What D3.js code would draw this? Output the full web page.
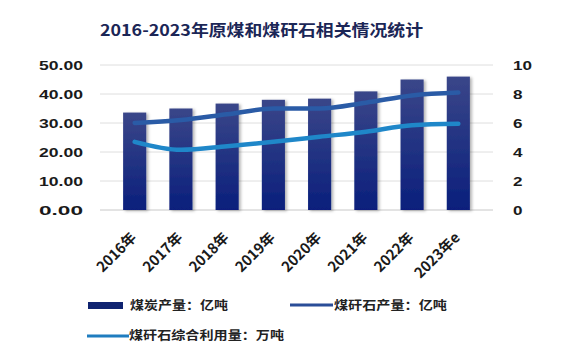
<!DOCTYPE html>
<html><head><meta charset="utf-8">
<script src="https://cdn.jsdelivr.net/npm/d3@7"></script>
<style>body{margin:0;background:#fff;}svg{display:block;font-family:"Noto Sans CJK SC","Noto Sans",sans-serif;}</style>
</head><body><svg id="c" width="570" height="359"></svg>
<script>
const categories = ["2016年","2017年","2018年","2019年","2020年","2021年","2022年","2023年e"];
const coalOutput = [33.6, 35.0, 36.7, 38.0, 38.4, 40.9, 45.0, 46.0];
const gangueOutput = [6.0, 6.2, 6.6, 7.0, 7.0, 7.4, 7.9, 8.1];
const gangueUse = [4.7, 4.15, 4.4, 4.7, 5.05, 5.4, 5.85, 5.95];
const leftTicks = [0,10,20,30,40,50];
const rightTicks = [0,2,4,6,8,10];

const svg = d3.select("#c");
const defs = svg.append("defs");
const g = defs.append("linearGradient").attr("id","bg").attr("x1",0).attr("y1",0).attr("x2",0).attr("y2",1);
g.append("stop").attr("offset","0%").attr("stop-color","#3a4689");
g.append("stop").attr("offset","100%").attr("stop-color","#0a1f7c");
const f = defs.append("filter").attr("id","sh").attr("x","-20%").attr("y","-10%").attr("width","150%").attr("height","130%");
f.append("feDropShadow").attr("dx",2).attr("dy",1).attr("stdDeviation",1.5).attr("flood-color","#000").attr("flood-opacity",0.3);

const L = 100, R = 493, T = 65, B = 210;
const x = d3.scaleBand().domain(categories).range([L,R]).padding(0.5);
const yL = d3.scaleLinear().domain([0,50]).range([B,T]);
const yR = d3.scaleLinear().domain([0,10]).range([B,T]);

svg.append("text").attr("x",100).attr("y",36)
  .attr("font-size",16).attr("font-weight","bold").attr("fill","#1b2656")
  .attr("textLength",323).attr("lengthAdjust","spacingAndGlyphs")
  .text("2016-2023年原煤和煤矸石相关情况统计");

// grid
svg.append("g").selectAll("line").data(leftTicks).join("line")
  .attr("x1",L).attr("x2",R).attr("y1",d=>yL(d)).attr("y2",d=>yL(d))
  .attr("stroke",d=>d===0?"#c8c8c8":"#dedede").attr("stroke-width",1);

// left axis
const la = svg.append("g").attr("transform",`translate(${L-17},0)`)
  .call(d3.axisLeft(yL).tickValues(leftTicks).tickFormat(d3.format(".2f")).tickSize(0));
la.select(".domain").remove();
la.selectAll("text").attr("x",0).attr("font-size",13).attr("font-weight","bold").attr("fill","#1a1a1a").attr("dy","0.35em")
  .attr("textLength",44).attr("lengthAdjust","spacingAndGlyphs");

// right axis
const ra = svg.append("g").attr("transform",`translate(${R+20},0)`)
  .call(d3.axisRight(yR).tickValues(rightTicks).tickFormat(d3.format("d")).tickSize(0));
ra.select(".domain").remove();
ra.selectAll("text").attr("x",0).attr("font-size",13.5).attr("font-weight","bold").attr("fill","#1a1a1a").attr("dy","0.35em")
  .attr("textLength",d=>d>=10?19:9.5).attr("lengthAdjust","spacingAndGlyphs");

// bars
svg.append("g").selectAll("rect").data(coalOutput).join("rect")
  .attr("x",(d,i)=>x(categories[i])).attr("width",x.bandwidth())
  .attr("y",d=>yL(d)).attr("height",d=>B-yL(d))
  .attr("fill","url(#bg)").attr("filter","url(#sh)");

// x labels
svg.append("g").selectAll("text").data(categories).join("text")
  .attr("transform",d=>`translate(${x(d)+x.bandwidth()/2-1},${B+25}) rotate(-45)`)
  .attr("text-anchor","end").attr("dy","0.35em")
  .attr("font-size",14.5).attr("font-weight","bold").attr("fill","#1a1a1a")
  .text(d=>d);

const line = d3.line().x((d,i)=>x(categories[i])+x.bandwidth()/2).y(d=>yR(d)).curve(d3.curveMonotoneX);
svg.append("path").attr("d",line(gangueUse)).attr("fill","none").attr("stroke","#1f87c9").attr("stroke-width",4.5).attr("stroke-linecap","round");
svg.append("path").attr("d",line(gangueOutput)).attr("fill","none").attr("stroke","#2a5ba6").attr("stroke-width",4.5).attr("stroke-linecap","round");

// legend
const lg = svg.append("g").attr("font-size",12).attr("font-weight","bold").attr("fill","#222");
lg.append("rect").attr("x",88).attr("y",302).attr("width",35).attr("height",7).attr("fill","#0f2370");
lg.append("text").attr("x",130).attr("y",306).attr("dy","0.35em").attr("textLength",98).attr("lengthAdjust","spacingAndGlyphs").text("煤炭产量：亿吨");
lg.append("line").attr("x1",290).attr("x2",333).attr("y1",305).attr("y2",305).attr("stroke","#2a4d98").attr("stroke-width",3);
lg.append("text").attr("x",334).attr("y",306).attr("dy","0.35em").attr("textLength",113).attr("lengthAdjust","spacingAndGlyphs").text("煤矸石产量：亿吨");
lg.append("line").attr("x1",87).attr("x2",129).attr("y1",336).attr("y2",336).attr("stroke","#1f7dbf").attr("stroke-width",3);
lg.append("text").attr("x",129).attr("y",336).attr("dy","0.35em").attr("textLength",155).attr("lengthAdjust","spacingAndGlyphs").text("煤矸石综合利用量：万吨");
</script></body></html>
